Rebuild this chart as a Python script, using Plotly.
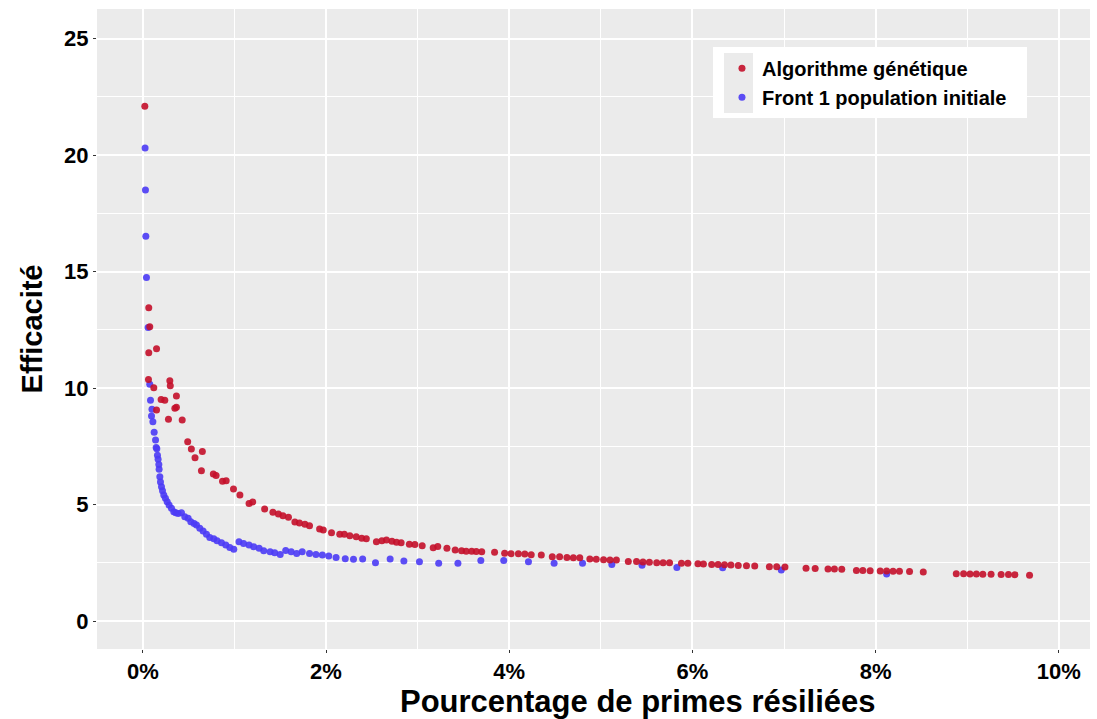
import plotly.graph_objects as go

# Algorithme génétique (x in % of primes résiliées, y = efficacité)
ga_x = [0.022, 0.065, 0.076, 0.065, 0.15, 0.062, 0.12, 0.295, 0.30, 0.20, 0.24, 0.367, 0.15, 0.35,
        0.367, 0.28, 0.43, 0.49, 0.53, 0.65, 0.57, 0.64, 0.77, 0.80, 0.87, 0.91, 0.99, 1.06, 1.16,
        1.20, 1.33, 1.42, 1.48, 1.53, 1.59, 1.66, 1.71, 1.77, 1.82, 1.93, 1.97, 2.06, 2.15, 2.20,
        2.26, 2.33, 2.39, 2.44, 2.55, 2.61, 2.66, 2.72, 2.77, 2.82, 2.91, 2.97, 3.05, 3.17, 3.22,
        3.32, 3.41, 3.48, 3.53, 3.59, 3.64, 3.70, 3.84, 3.95, 4.02, 4.10, 4.17, 4.24, 4.35, 4.47,
        4.55, 4.63, 4.70, 4.77, 4.88, 4.95, 5.03, 5.10, 5.17, 5.30, 5.39, 5.46, 5.53, 5.61, 5.68,
        5.75, 5.88, 5.95, 6.06, 6.12, 6.21, 6.28, 6.35, 6.42, 6.50, 6.59, 6.68, 6.84, 6.92, 7.01,
        7.24, 7.34, 7.48, 7.55, 7.63, 7.79, 7.86, 7.94, 8.05, 8.12, 8.19, 8.26, 8.37, 8.52, 8.88,
        8.96, 9.03, 9.10, 9.17, 9.26, 9.37, 9.45, 9.52, 9.68]
ga_y = [22.10, 13.45, 12.63, 11.52, 11.69, 10.37, 10.01, 10.31, 10.10, 9.51, 9.48, 9.66, 9.06, 9.13,
        9.18, 8.66, 8.63, 7.70, 7.38, 7.28, 7.01, 6.45, 6.31, 6.25, 6.00, 6.02, 5.67, 5.41, 5.05,
        5.11, 4.81, 4.67, 4.59, 4.52, 4.46, 4.25, 4.21, 4.15, 4.09, 3.95, 3.91, 3.79, 3.73, 3.72,
        3.66, 3.62, 3.55, 3.53, 3.40, 3.45, 3.48, 3.43, 3.38, 3.36, 3.30, 3.28, 3.23, 3.15, 3.20,
        3.12, 3.05, 3.02, 3.00, 3.00, 2.99, 2.97, 2.95, 2.91, 2.89, 2.89, 2.88, 2.85, 2.83, 2.76,
        2.76, 2.73, 2.72, 2.72, 2.66, 2.65, 2.63, 2.62, 2.62, 2.56, 2.56, 2.53, 2.52, 2.50, 2.50,
        2.50, 2.48, 2.48, 2.46, 2.45, 2.43, 2.43, 2.42, 2.41, 2.38, 2.37, 2.36, 2.33, 2.33, 2.32,
        2.27, 2.26, 2.23, 2.23, 2.22, 2.17, 2.17, 2.16, 2.15, 2.15, 2.14, 2.14, 2.13, 2.11, 2.03,
        2.03, 2.02, 2.02, 2.01, 2.01, 2.00, 2.00, 1.99, 1.97]

# Front 1 population initiale
init_x = [0.025, 0.029, 0.033, 0.040, 0.058, 0.076, 0.084, 0.10, 0.095, 0.11, 0.124, 0.139, 0.146,
          0.153, 0.16, 0.167, 0.175, 0.178, 0.186, 0.193, 0.204, 0.215, 0.229, 0.247, 0.266, 0.287,
          0.313, 0.338, 0.36, 0.386, 0.422, 0.458, 0.495, 0.524, 0.56, 0.586, 0.622, 0.658, 0.695,
          0.731, 0.775, 0.811, 0.859, 0.906, 0.95, 0.993, 1.05, 1.10, 1.16, 1.21, 1.27, 1.32, 1.39,
          1.44, 1.50, 1.56, 1.62, 1.68, 1.74, 1.82, 1.89, 1.96, 2.03, 2.11, 2.21, 2.30, 2.40, 2.54,
          2.70, 2.85, 3.02, 3.23, 3.44, 3.69, 3.94, 4.21, 4.49, 4.80, 5.12, 5.45, 5.83, 6.33, 6.97,
          8.12]
init_y = [20.30, 18.50, 16.52, 14.75, 12.60, 10.16, 9.48, 9.09, 8.80, 8.55, 8.10, 7.77, 7.45,
          7.40, 7.12, 6.94, 6.72, 6.51, 6.19, 5.97, 5.76, 5.59, 5.41, 5.27, 5.12, 4.98,
          4.84, 4.69, 4.65, 4.62, 4.65, 4.48, 4.41, 4.26, 4.19, 4.12, 3.98, 3.86, 3.73,
          3.59, 3.53, 3.45, 3.36, 3.26, 3.16, 3.08, 3.40, 3.33, 3.26, 3.19, 3.12, 3.02, 2.97,
          2.93, 2.86, 3.03, 2.97, 2.90, 2.97, 2.90, 2.86, 2.83, 2.79, 2.73, 2.67, 2.65, 2.66, 2.50,
          2.66, 2.58, 2.55, 2.48, 2.48, 2.60, 2.60, 2.55, 2.48, 2.48, 2.43, 2.40, 2.30, 2.29, 2.19,
          2.02]

x_ticks = [0, 2, 4, 6, 8, 10]
y_ticks = [0, 5, 10, 15, 20, 25]

FONT = "Liberation Sans, Arial, sans-serif"
RED = "#C4102A"
BLUE = "#4B3BF5"

fig = go.Figure()
fig.add_trace(go.Scatter(x=init_x, y=init_y, mode="markers", name="Front 1 population initiale",
                         legendgroup="b", legendrank=2,
                         marker=dict(color=BLUE, size=7, opacity=0.9)))
fig.add_trace(go.Scatter(x=ga_x, y=ga_y, mode="markers", name="Algorithme génétique",
                         legendgroup="a", legendrank=1,
                         marker=dict(color=RED, size=7, opacity=0.9)))

axis_common = dict(
    automargin=False,
    showgrid=True, gridcolor="white", gridwidth=2, zeroline=False, showline=False,
    ticks="outside", ticklen=3, tickcolor="#333333", tickwidth=1,
    tickfont=dict(family=FONT, size=22, color="black", weight="bold"),
)

fig.update_xaxes(
    range=[-0.5, 10.34], tickvals=x_ticks, ticktext=[f"{v}%" for v in x_ticks],
    minor=dict(showgrid=True, gridcolor="white", gridwidth=1, dtick=1, tick0=0),
    **axis_common,
)
fig.update_yaxes(
    range=[-1.2, 26.27], tickvals=y_ticks,
    minor=dict(showgrid=True, gridcolor="white", gridwidth=1, dtick=2.5, tick0=0),
    title=dict(text="Efficacité", standoff=12,
               font=dict(family=FONT, size=29, color="black", weight="bold")),
    **axis_common,
)

# x axis title (sits a bit right of the panel centre in the original)
fig.add_annotation(text="Pourcentage de primes résiliées", xref="paper", yref="paper",
                   x=0.545, y=-0.082, xanchor="center", yanchor="middle", showarrow=False,
                   font=dict(family=FONT, size=31, color="black", weight="bold"))

# legend background and key box (ggplot style)
fig.add_shape(type="rect", xref="paper", yref="paper", x0=0.6203, x1=0.9366, y0=0.8297, y1=0.9406,
              fillcolor="white", line_width=0, layer="above")
fig.add_shape(type="rect", xref="paper", yref="paper", x0=0.6314, x1=0.6606, y0=0.8375, y1=0.9313,
              fillcolor="#EBEBEB", line_width=0, layer="above")

fig.update_layout(
    width=1097, height=719,
    margin=dict(l=97, r=7, t=9, b=70),
    plot_bgcolor="#EBEBEB", paper_bgcolor="white",
    font=dict(family=FONT, color="black"),
    legend=dict(x=0.6294, y=0.938, xanchor="left", yanchor="top", bgcolor="rgba(0,0,0,0)",
                tracegroupgap=0, font=dict(family=FONT, size=20, color="black", weight="bold")),
)

fig.write_html("out.html", config={"displayModeBar": False},
               post_script="document.body.style.margin='0';")
